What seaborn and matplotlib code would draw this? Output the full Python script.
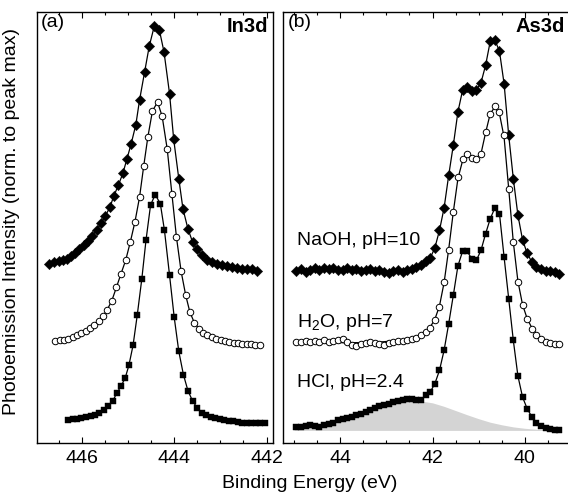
import matplotlib
matplotlib.use("Agg")
import matplotlib.pyplot as plt
from matplotlib.ticker import MultipleLocator
import seaborn as sns

# ---- panel (a): In3d ----
in_naoh_e = [446.71, 446.61, 446.50, 446.41, 446.32, 446.23, 446.14, 446.05, 445.96, 445.87,
             445.78, 445.68, 445.58, 445.49, 445.39, 445.31, 445.21, 445.11, 445.02, 444.93,
             444.83, 444.75, 444.64, 444.54, 444.43, 444.32, 444.22, 444.10, 444.01, 443.90,
             443.81, 443.70, 443.60, 443.51, 443.40, 443.29, 443.18, 443.07, 442.97, 442.86,
             442.75, 442.64, 442.53, 442.43, 442.32, 442.21]
in_naoh_y = [0.766, 0.776, 0.779, 0.783, 0.787, 0.800, 0.816, 0.830, 0.847, 0.866,
             0.887, 0.911, 0.943, 0.973, 1.011, 1.057, 1.104, 1.156, 1.219, 1.283,
             1.364, 1.469, 1.590, 1.700, 1.787, 1.769, 1.676, 1.497, 1.301, 1.133,
             1.004, 0.916, 0.861, 0.830, 0.807, 0.783, 0.776, 0.766, 0.761, 0.759,
             0.754, 0.751, 0.747, 0.747, 0.744, 0.739]

in_h2o_e = [446.57, 446.48, 446.38, 446.29, 446.19, 446.10, 446.01, 445.91, 445.82, 445.73,
            445.63, 445.54, 445.45, 445.35, 445.25, 445.15, 445.05, 444.95, 444.85, 444.75,
            444.66, 444.57, 444.47, 444.36, 444.26, 444.15, 444.05, 443.95, 443.85, 443.75,
            443.66, 443.56, 443.46, 443.37, 443.28, 443.18, 443.09, 442.99, 442.90, 442.81,
            442.71, 442.62, 442.53, 442.43, 442.34, 442.25, 442.15]
in_h2o_y = [0.436, 0.440, 0.443, 0.447, 0.453, 0.461, 0.470, 0.480, 0.491, 0.504,
            0.521, 0.543, 0.571, 0.610, 0.667, 0.726, 0.783, 0.861, 0.947, 1.053,
            1.186, 1.311, 1.423, 1.461, 1.400, 1.259, 1.069, 0.881, 0.736, 0.633,
            0.561, 0.514, 0.490, 0.473, 0.461, 0.453, 0.446, 0.440, 0.436, 0.433,
            0.430, 0.427, 0.426, 0.424, 0.423, 0.421, 0.421]

in_hcl_e = [446.30, 446.19, 446.10, 446.01, 445.91, 445.81, 445.72, 445.62, 445.52, 445.43,
            445.33, 445.24, 445.15, 445.06, 444.98, 444.89, 444.80, 444.70, 444.61, 444.51,
            444.41, 444.30, 444.21, 444.10, 444.00, 443.90, 443.80, 443.70, 443.60, 443.50,
            443.40, 443.30, 443.20, 443.11, 443.01, 442.92, 442.81, 442.72, 442.62, 442.53,
            442.43, 442.33, 442.23, 442.14, 442.04]
in_hcl_y = [0.097, 0.101, 0.104, 0.107, 0.111, 0.116, 0.121, 0.130, 0.143, 0.160,
            0.181, 0.214, 0.244, 0.279, 0.333, 0.419, 0.547, 0.704, 0.869, 1.021,
            1.064, 1.026, 0.911, 0.719, 0.540, 0.393, 0.293, 0.223, 0.180, 0.150,
            0.130, 0.119, 0.111, 0.106, 0.101, 0.099, 0.096, 0.093, 0.090, 0.087,
            0.084, 0.084, 0.086, 0.086, 0.084]

# ---- panel (b): As3d ----
as_e = [44.95, 44.85, 44.75, 44.65, 44.55, 44.45, 44.35, 44.25, 44.15, 44.05,
        43.95, 43.85, 43.75, 43.65, 43.55, 43.45, 43.35, 43.25, 43.15, 43.05,
        42.95, 42.85, 42.75, 42.65, 42.55, 42.45, 42.35, 42.25, 42.15, 42.05,
        41.95, 41.85, 41.75, 41.65, 41.55, 41.45, 41.35, 41.25, 41.15, 41.05,
        40.95, 40.85, 40.75, 40.65, 40.55, 40.45, 40.35, 40.25, 40.15, 40.05,
        39.95, 39.85, 39.75, 39.65, 39.55, 39.45, 39.35, 39.25]
as_naoh_y = [0.736, 0.744, 0.734, 0.741, 0.749, 0.740, 0.750, 0.744, 0.751, 0.743,
             0.740, 0.749, 0.740, 0.746, 0.737, 0.741, 0.746, 0.736, 0.741, 0.733,
             0.730, 0.737, 0.741, 0.733, 0.740, 0.746, 0.756, 0.764, 0.779, 0.793,
             0.836, 0.911, 1.007, 1.147, 1.276, 1.419, 1.511, 1.524, 1.507, 1.513,
             1.544, 1.619, 1.721, 1.727, 1.679, 1.540, 1.319, 1.133, 0.976, 0.871,
             0.813, 0.776, 0.756, 0.744, 0.739, 0.739, 0.731, 0.724]
as_h2o_y = [0.433, 0.434, 0.436, 0.433, 0.437, 0.431, 0.440, 0.433, 0.439, 0.441,
            0.447, 0.433, 0.421, 0.416, 0.424, 0.430, 0.433, 0.429, 0.424, 0.419,
            0.429, 0.433, 0.436, 0.439, 0.441, 0.444, 0.450, 0.461, 0.476, 0.493,
            0.526, 0.583, 0.690, 0.826, 0.990, 1.140, 1.219, 1.240, 1.221, 1.219,
            1.240, 1.333, 1.411, 1.443, 1.419, 1.319, 1.090, 0.861, 0.690, 0.590,
            0.530, 0.490, 0.464, 0.444, 0.433, 0.429, 0.426, 0.424]
as_h2o_fit = [0.430, 0.430, 0.430, 0.430, 0.430, 0.430, 0.430, 0.430, 0.430, 0.430,
              0.430, 0.430, 0.430, 0.430, 0.430, 0.431, 0.431, 0.433, 0.433, 0.434,
              0.436, 0.437, 0.439, 0.441, 0.444, 0.449, 0.454, 0.464, 0.479, 0.497,
              0.530, 0.587, 0.687, 0.830, 0.990, 1.133, 1.209, 1.233, 1.226, 1.221,
              1.240, 1.330, 1.411, 1.440, 1.411, 1.311, 1.090, 0.861, 0.693, 0.593,
              0.533, 0.494, 0.469, 0.450, 0.439, 0.433, 0.430, 0.429]
as_hcl_y = [0.067, 0.070, 0.071, 0.076, 0.073, 0.070, 0.076, 0.081, 0.087, 0.097,
            0.103, 0.107, 0.113, 0.119, 0.126, 0.133, 0.143, 0.150, 0.157, 0.161,
            0.167, 0.176, 0.179, 0.186, 0.190, 0.189, 0.186, 0.183, 0.204, 0.219,
            0.254, 0.311, 0.397, 0.511, 0.633, 0.759, 0.821, 0.821, 0.790, 0.783,
            0.826, 0.897, 0.961, 1.007, 0.983, 0.797, 0.619, 0.440, 0.287, 0.197,
            0.147, 0.113, 0.087, 0.073, 0.064, 0.060, 0.056, 0.056]

# shaded background component under the HCl spectrum
bg_e = [45.0, 44.75, 44.5, 44.25, 44.0, 43.75, 43.5, 43.25, 43.0, 42.75, 42.5, 42.25,
        42.0, 41.75, 41.5, 41.25, 41.0, 40.75, 40.5, 40.25, 40.0, 39.75, 39.5, 39.25]
bg_top = [0.060, 0.065, 0.072, 0.082, 0.095, 0.110, 0.128, 0.150, 0.165, 0.178, 0.183, 0.180,
          0.172, 0.157, 0.139, 0.121, 0.104, 0.089, 0.078, 0.069, 0.063, 0.059, 0.057, 0.056]
bg_base = 0.054

sample_labels = ["NaOH, pH=10", "H$_2$O, pH=7", "HCl, pH=2.4"]

sns.set_theme(style="ticks")
plt.rcParams["font.family"] = ["Liberation Sans", "DejaVu Sans"]
plt.rcParams["mathtext.fontset"] = "custom"
plt.rcParams["mathtext.rm"] = "Liberation Sans"
plt.rcParams["mathtext.it"] = "Liberation Sans:italic"
plt.rcParams["axes.linewidth"] = 1.0
plt.rcParams["axes.edgecolor"] = "black"
plt.rcParams["text.color"] = "black"
plt.rcParams["xtick.color"] = "black"
plt.rcParams["xtick.labelcolor"] = "black"

fig = plt.figure(figsize=(5.68, 4.96), dpi=100)
ax_a = fig.add_axes([37 / 568, 53 / 496, 236 / 568, 431 / 496])
ax_b = fig.add_axes([283 / 568, 53 / 496, 288 / 568, 431 / 496])


def draw_curve(ax, x, y, marker, filled, size, y_line=None):
    sns.lineplot(x=x, y=y if y_line is None else y_line, ax=ax, color="black",
                 lw=0.9, sort=False, estimator=None, zorder=2)
    if filled:
        sns.scatterplot(x=x, y=y, ax=ax, marker=marker, s=size, color="black",
                        edgecolor="black", linewidth=0.3, zorder=3)
    else:
        sns.scatterplot(x=x, y=y, ax=ax, marker=marker, s=size, facecolor="white",
                        edgecolor="black", linewidth=0.7, zorder=3)


# panel (a)
draw_curve(ax_a, in_naoh_e, in_naoh_y, "D", True, 28)
draw_curve(ax_a, in_h2o_e, in_h2o_y, "o", False, 22)
draw_curve(ax_a, in_hcl_e, in_hcl_y, "s", True, 18)

# panel (b)
ax_b.fill_between(bg_e, bg_base, bg_top, color="#d4d4d4", lw=0, zorder=1)
draw_curve(ax_b, as_e, as_naoh_y, "D", True, 28)
draw_curve(ax_b, as_e, as_h2o_y, "o", False, 22, y_line=as_h2o_fit)
draw_curve(ax_b, as_e, as_hcl_y, "s", True, 18)

for ax in (ax_a, ax_b):
    ax.set_ylim(0, 1.847)
    ax.set_yticks([])
    ax.set_xlabel("")
    ax.set_ylabel("")
    ax.xaxis.set_major_locator(MultipleLocator(2))
    ax.xaxis.set_minor_locator(MultipleLocator(0.5))
    ax.tick_params(which="both", direction="in", top=True, bottom=True,
                   left=False, right=False, width=0.8, colors="black")
    ax.tick_params(which="major", length=4.5, labelsize=14, pad=5)
    ax.tick_params(which="minor", length=2.5)
    for sp in ax.spines.values():
        sp.set_visible(True)
        sp.set_color("black")

ax_a.set_xlim(446.97, 441.86)
ax_b.set_xlim(45.24, 39.0)

ax_a.text(0.017, 0.995, "(a)", transform=ax_a.transAxes, fontsize=14, ha="left", va="top")
ax_a.text(0.979, 0.988, "In3d", transform=ax_a.transAxes, fontsize=14.5,
          fontweight="bold", ha="right", va="top")
ax_b.text(0.015, 0.995, "(b)", transform=ax_b.transAxes, fontsize=14, ha="left", va="top")
ax_b.text(0.978, 0.988, "As3d", transform=ax_b.transAxes, fontsize=14.5,
          fontweight="bold", ha="right", va="top")

for lab, yb in zip(sample_labels, [0.459, 0.269, 0.130]):
    ax_b.text(0.049, yb, lab, transform=ax_b.transAxes, fontsize=14,
              ha="left", va="baseline")

fig.text(12 / 568, 0.553, "Photoemission Intensity (norm. to peak max)", rotation=90,
         fontsize=14, ha="center", va="center")
fig.text(0.545, 0.026, "Binding Energy (eV)", fontsize=14, ha="center", va="center")

fig.savefig("out.png", dpi=100)
